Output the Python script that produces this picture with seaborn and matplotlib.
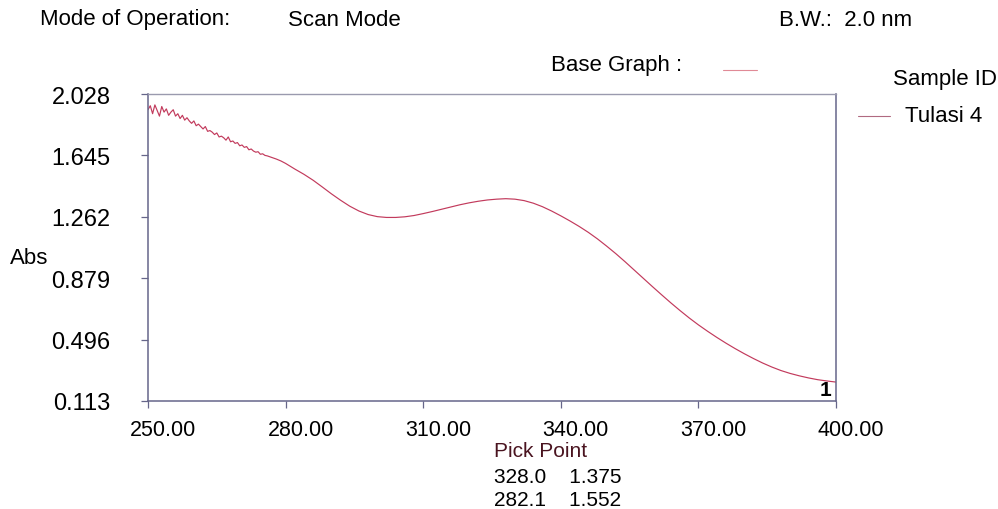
import matplotlib
matplotlib.use("Agg")
import matplotlib.pyplot as plt
from matplotlib.transforms import ScaledTranslation
import seaborn as sns
import pandas as pd

# ---- data ----
wavelength_noisy = [250.0, 250.5, 251.0, 251.5, 252.0, 252.5, 253.0, 253.5, 254.0, 254.5,
                    255.0, 255.5, 256.0, 256.5, 257.0, 257.5, 258.0, 258.5, 259.0, 259.5,
                    260.0, 260.5, 261.0, 261.5, 262.0, 262.5, 263.0, 263.5, 264.0, 264.5,
                    265.0, 265.5, 266.0, 266.5, 267.0, 267.5, 268.0, 268.5, 269.0, 269.5,
                    270.0, 270.5, 271.0, 271.5, 272.0, 272.5, 273.0, 273.5, 274.0, 274.5,
                    275.0, 275.5, 276.0, 277.0, 278.0, 279.0, 280.0]
abs_noisy = [1.93, 1.955, 1.905, 1.96, 1.925, 1.89, 1.95, 1.915, 1.935, 1.895,
             1.915, 1.93, 1.89, 1.905, 1.875, 1.895, 1.865, 1.88, 1.86, 1.845,
             1.86, 1.83, 1.84, 1.825, 1.81, 1.825, 1.795, 1.80, 1.79, 1.775,
             1.785, 1.76, 1.765, 1.755, 1.74, 1.76, 1.73, 1.735, 1.72, 1.725,
             1.705, 1.71, 1.695, 1.70, 1.68, 1.685, 1.672, 1.665, 1.668, 1.652,
             1.655, 1.645, 1.642, 1.632, 1.622, 1.61, 1.595]
wavelength_smooth = [282, 284, 286, 288, 290, 292, 294, 296, 298, 300,
                     302, 304, 306, 308, 310, 312, 314, 316, 318, 320,
                     322, 324, 326, 328, 330, 332, 334, 336, 338, 340,
                     342, 344, 346, 348, 350, 352, 354, 356, 358, 360,
                     362, 364, 366, 368, 370, 372, 374, 376, 378, 380,
                     382, 384, 386, 388, 390, 392, 394, 396, 398, 400]
abs_smooth = [1.56, 1.527, 1.49, 1.448, 1.405, 1.365, 1.328, 1.298, 1.276, 1.263,
              1.258, 1.258, 1.262, 1.27, 1.282, 1.295, 1.309, 1.323, 1.337, 1.349,
              1.359, 1.367, 1.372, 1.375, 1.372, 1.363, 1.347, 1.325, 1.298, 1.268,
              1.236, 1.202, 1.165, 1.124, 1.079, 1.032, 0.982, 0.93, 0.878, 0.826,
              0.775, 0.725, 0.677, 0.631, 0.588, 0.548, 0.51, 0.474, 0.44, 0.408,
              0.378, 0.35, 0.325, 0.303, 0.285, 0.27, 0.257, 0.246, 0.238, 0.231]
y_ticks = [0.113, 0.496, 0.879, 1.262, 1.645, 2.028]
y_tick_labels = ["0.113", "0.496", "0.879", "1.262", "1.645", "2.028"]
x_ticks = [250, 280, 310, 340, 370, 400]
x_tick_labels = ["250.00", "280.00", "310.00", "340.00", "370.00", "400.00"]
pick_points = ["328.0    1.375", "282.1    1.552"]
sample_name = "Tulasi 4"

df = pd.DataFrame({"Wavelength": wavelength_noisy + wavelength_smooth,
                   "Abs": abs_noisy + abs_smooth})

sns.set_style("white")
plt.rcParams["font.family"] = ["Liberation Sans", "DejaVu Sans"]
plt.rcParams["text.color"] = "black"
plt.rcParams["xtick.color"] = "black"
plt.rcParams["ytick.color"] = "black"

W, H = 998, 510
fig = plt.figure(figsize=(W / 100, H / 100), dpi=100)
ax = fig.add_axes([148 / W, 1 - 402 / H, (836 - 148) / W, (402 - 95) / H])

line_color = "#c23a5c"
sns.lineplot(data=df, x="Wavelength", y="Abs", ax=ax, color=line_color,
             linewidth=0.85, sort=False, estimator=None)

ax.set_xlim(250, 400)
ax.set_ylim(0.113, 2.028)
ax.set_xticks(x_ticks)
ax.set_xticklabels(x_tick_labels)
ax.set_yticks(y_ticks)
ax.set_yticklabels(y_tick_labels)
ax.set_xlabel("")
ax.set_ylabel("")
frame_color = "#66668a"
for side in ["left", "bottom", "right"]:
    ax.spines[side].set_color(frame_color)
    ax.spines[side].set_linewidth(1.1)
ax.spines["top"].set_color("#9a9aae")
ax.spines["top"].set_linewidth(1.0)
ax.tick_params(axis="y", direction="out", length=5, width=0.9, color=frame_color,
               labelsize=17, pad=22, left=True, labelcolor="black")
ax.tick_params(axis="x", direction="out", length=5, width=0.9, color=frame_color,
               labelsize=15.5, pad=8, bottom=True, labelcolor="black")
shift = ScaledTranslation(15 / 100, 0, fig.dpi_scale_trans)
for lab in ax.get_xticklabels():
    lab.set_transform(lab.get_transform() + shift)

fs = 16
fig.text(40 / W, 1 - 20 / H, "Mode of Operation:", fontsize=fs, va="center", ha="left")
fig.text(288 / W, 1 - 20 / H, "Scan Mode", fontsize=fs, va="center", ha="left")
fig.text(779 / W, 1 - 20 / H, "B.W.:  2.0 nm", fontsize=fs, va="center", ha="left")
fig.text(551 / W, 1 - 66 / H, "Base Graph :", fontsize=fs, va="center", ha="left")
fig.add_artist(plt.Line2D([723 / W, 757 / W], [1 - 71 / H, 1 - 71 / H],
                          color="#e08a96", linewidth=0.8))
fig.text(893 / W, 1 - 80 / H, "Sample ID", fontsize=fs, va="center", ha="left")
fig.add_artist(plt.Line2D([858 / W, 890 / W], [1 - 117 / H, 1 - 117 / H],
                          color="#b06a80", linewidth=0.8))
fig.text(905 / W, 1 - 117 / H, sample_name, fontsize=fs, va="center", ha="left")
fig.text(10 / W, 1 - 258 / H, "Abs", fontsize=fs, va="center", ha="left")
fs2 = 15
fig.text(494 / W, 1 - 452 / H, "Pick Point", fontsize=fs2, va="center", ha="left",
         color="#4a1420")
fig.text(494 / W, 1 - 478 / H, pick_points[0], fontsize=fs2, va="center", ha="left")
fig.text(494 / W, 1 - 501 / H, pick_points[1], fontsize=fs2, va="center", ha="left")
ax.text(0.985, 0.005, "1", transform=ax.transAxes, fontsize=15, fontweight="bold",
        ha="center", va="bottom")

fig.savefig("out.png", dpi=100)
